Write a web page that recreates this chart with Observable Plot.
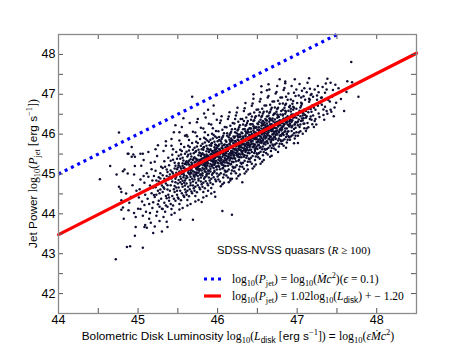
<!DOCTYPE html>
<html><head><meta charset="utf-8">
<script src="https://cdn.jsdelivr.net/npm/d3@7"></script>
<script src="https://cdn.jsdelivr.net/npm/@observablehq/plot@0.6"></script>
<style>body{margin:0;background:#fff;} svg{display:block}</style>
</head><body><div id="chart"></div>
<script>
// ---- data ----
const xTicks = [44, 45, 46, 47, 48];
const yTicks = [42, 43, 44, 45, 46, 47, 48];
const xTickMarks = [44, 44.5, 45, 45.5, 46, 46.5, 47, 47.5, 48, 48.5];
const yTickMarks = [41.5, 42, 42.5, 43, 43.5, 44, 44.5, 45, 45.5, 46, 46.5, 47, 47.5, 48, 48.5];
const fitX = [44, 48.5];
const fitY = [43.48, 48.03];
const eddX = [44, 47.5];
const eddY = [45, 48.5];
const legendTitle = "SDSS-NVSS quasars";
const quasars = [
[44.52,44.87],[44.65,45.2],[44.72,42.86],[44.73,44.99],[44.76,46.04],[44.76,44.68],[44.78,44.63],[44.79,44.55],[44.79,44.34],[44.79,44.1],[44.81,44.16],[44.81,45.07],[44.82,43.88],[44.83,45.11],[44.85,44.51],[44.86,43.17],[44.87,45.01],[44.87,45.51],[44.88,44.09],[44.88,45.51],[44.9,43.19],[44.92,45.43],[44.92,45.68],[44.94,45.49],[44.95,44.99],[44.96,45.43],[44.96,45.2],[44.96,43.45],[44.97,43.67],[44.97,43.92],[45.0,44.13],[44.91,44.42],[44.93,44.72],[44.98,44.58],[44.89,44.28],[44.95,44.02],
[45.06,43.15],[45.08,43.67],[45.19,43.52],[45.3,43.56],[45.37,43.67],[45.53,43.85],[45.69,43.85],[45.8,44.3],[45.03,45.51],[45.06,45.51],[45.68,46.94],[45.57,46.4],[46.06,44.07],
[45.42,45.88],[45.52,46.05],[45.61,45.98],[45.74,46.3],[45.83,46.52],[45.35,45.71],[45.47,46.22],[45.88,46.61],[45.95,46.72],[46.55,47.2],[46.85,47.28],[46.62,47.1],
[45.02,44.62],[45.05,44.31],[45.07,44.95],[45.03,44.12],[45.09,44.48],[45.06,43.95],[45.08,44.78],[45.04,45.21],[45.1,44.05],[45.01,44.41],[45.09,43.72],[45.05,44.55],[45.07,45.35],[45.03,44.86],[45.08,44.22],
[45.12,44.38],[45.15,44.71],[45.11,45.02],[45.18,44.15],[45.14,43.88],[45.17,44.52],[45.13,44.93],[45.19,44.29],[45.16,45.28],[45.12,44.61],[45.18,44.84],[45.15,44.02],[45.2,44.47],[45.11,43.65],[45.17,45.12],[45.14,44.25],[45.19,44.66],[45.13,45.55],[45.16,43.78],[45.2,44.95],
[45.21,44.42],[45.24,44.75],[45.22,45.08],[45.27,44.18],[45.25,44.58],[45.23,43.95],[45.28,44.89],[45.26,44.33],[45.29,45.18],[45.22,44.67],[45.24,44.05],[45.27,44.52],[45.21,45.31],[45.3,44.71],[45.25,44.24],[45.28,45.02],[45.23,44.48],[45.26,44.92],[45.29,44.38],[45.22,45.62],[45.27,43.82],[45.24,45.45],[45.3,44.13],[45.26,44.81],[45.21,43.68],[45.28,44.61],[45.25,45.72],[45.23,44.84],
[45.31,44.55],[45.33,44.88],[45.35,44.21],[45.37,45.05],[45.32,44.67],[45.36,44.39],[45.39,44.92],[45.34,45.18],[45.38,44.48],[45.31,44.12],[45.35,44.76],[45.33,45.32],[45.37,44.61],[45.4,44.99],[45.32,43.92],[45.36,45.11],[45.39,44.33],[45.34,44.84],[45.38,45.41],[45.31,44.97],[45.35,44.45],[45.37,44.72],[45.33,44.28],[45.39,45.22],[45.32,45.58],[45.36,43.8],[45.4,44.58],[45.34,44.05],[45.38,44.87],[45.31,45.15],[45.35,45.82],[45.37,44.18],[45.33,44.63],[45.39,44.41],[45.36,44.95],
[45.41,44.72],[45.43,45.05],[45.45,44.38],[45.47,45.21],[45.42,44.89],[45.46,44.55],[45.49,45.12],[45.44,45.36],[45.48,44.66],[45.41,44.25],[45.45,44.95],[45.43,45.48],[45.47,44.79],[45.5,45.16],[45.42,44.12],[45.46,45.28],[45.49,44.48],[45.44,45.01],[45.48,45.55],[45.41,45.09],[45.45,44.62],[45.47,44.88],[45.43,44.45],[45.49,45.38],[45.42,45.71],[45.46,44.02],[45.5,44.76],[45.44,44.21],[45.48,45.03],[45.41,45.33],[45.45,46.05],[45.47,44.33],[45.43,44.81],[45.49,44.58],[45.46,45.14],[45.42,43.98],[45.48,44.93],[45.44,45.62],[45.5,44.41],[45.46,44.7],
[45.51,44.85],[45.53,45.18],[45.55,44.52],[45.57,45.34],[45.52,45.02],[45.56,44.68],[45.59,45.25],[45.54,45.49],[45.58,44.78],[45.51,44.38],[45.55,45.08],[45.53,45.61],[45.57,44.92],[45.6,45.29],[45.52,44.25],[45.56,45.41],[45.59,44.61],[45.54,45.14],[45.58,45.68],[45.51,45.22],[45.55,44.75],[45.57,45.01],[45.53,44.58],[45.59,45.51],[45.52,45.84],[45.56,44.15],[45.6,44.89],[45.54,44.34],[45.58,45.16],[45.51,45.46],[45.55,46.18],[45.57,44.46],[45.53,44.94],[45.59,44.71],[45.56,45.27],[45.52,44.11],[45.58,45.06],[45.54,45.75],[45.6,44.54],[45.56,44.83],[45.53,45.38],[45.58,44.42],[45.51,44.66],[45.55,45.58],[45.59,45.96],
[45.61,44.95],[45.63,45.28],[45.65,44.62],[45.67,45.44],[45.62,45.12],[45.66,44.78],[45.69,45.35],[45.64,45.59],[45.68,44.88],[45.61,44.48],[45.65,45.18],[45.63,45.71],[45.67,45.02],[45.7,45.39],[45.62,44.35],[45.66,45.51],[45.69,44.71],[45.64,45.24],[45.68,45.78],[45.61,45.32],[45.65,44.85],[45.67,45.11],[45.63,44.68],[45.69,45.61],[45.62,45.94],[45.66,44.25],[45.7,44.99],[45.64,44.44],[45.68,45.26],[45.61,45.56],[45.65,46.28],[45.67,44.56],[45.63,45.04],[45.69,44.81],[45.66,45.37],[45.62,44.21],[45.68,45.16],[45.64,45.85],[45.7,44.64],[45.66,44.93],[45.63,45.48],[45.68,44.52],[45.61,44.76],[45.65,45.68],[45.69,46.06],[45.64,45.01],[45.67,45.22],[45.62,44.58],[45.7,45.52],[45.66,45.09],
[45.71,45.05],[45.73,45.38],[45.75,44.72],[45.77,45.54],[45.72,45.22],[45.76,44.88],[45.79,45.45],[45.74,45.69],[45.78,44.98],[45.71,44.58],[45.75,45.28],[45.73,45.81],[45.77,45.12],[45.8,45.49],[45.72,44.45],[45.76,45.61],[45.79,44.81],[45.74,45.34],[45.78,45.88],[45.71,45.42],[45.75,44.95],[45.77,45.21],[45.73,44.78],[45.79,45.71],[45.72,46.04],[45.76,44.35],[45.8,45.09],[45.74,44.54],[45.78,45.36],[45.71,45.66],[45.75,46.38],[45.77,44.66],[45.73,45.14],[45.79,44.91],[45.76,45.47],[45.72,44.31],[45.78,45.26],[45.74,45.95],[45.8,44.74],[45.76,45.03],[45.73,45.58],[45.78,44.62],[45.71,44.86],[45.75,45.78],[45.79,46.16],[45.74,45.11],[45.77,45.32],[45.72,44.68],[45.8,45.62],[45.76,45.19],[45.73,45.02],[45.78,45.52],[45.71,45.29],[45.75,45.15],[45.79,45.33],
[45.81,45.15],[45.83,45.48],[45.85,44.82],[45.87,45.64],[45.82,45.32],[45.86,44.98],[45.89,45.55],[45.84,45.79],[45.88,45.08],[45.81,44.68],[45.85,45.38],[45.83,45.91],[45.87,45.22],[45.9,45.59],[45.82,44.55],[45.86,45.71],[45.89,44.91],[45.84,45.44],[45.88,45.98],[45.81,45.52],[45.85,45.05],[45.87,45.31],[45.83,44.88],[45.89,45.81],[45.82,46.14],[45.86,44.45],[45.9,45.19],[45.84,44.64],[45.88,45.46],[45.81,45.76],[45.85,46.42],[45.87,44.76],[45.83,45.24],[45.89,45.01],[45.86,45.57],[45.82,44.41],[45.88,45.36],[45.84,46.05],[45.9,44.84],[45.86,45.13],[45.83,45.68],[45.88,44.72],[45.81,44.96],[45.85,45.88],[45.89,46.26],[45.84,45.21],[45.87,45.42],[45.82,44.78],[45.9,45.72],[45.86,45.29],[45.83,45.12],[45.88,45.62],[45.81,45.39],[45.85,45.25],[45.89,45.43],[45.84,44.92],[45.87,45.84],[45.82,45.61],[45.86,45.49],[45.88,44.58],
[45.91,45.25],[45.93,45.58],[45.95,44.92],[45.97,45.74],[45.92,45.42],[45.96,45.08],[45.99,45.65],[45.94,45.89],[45.98,45.18],[45.91,44.78],[45.95,45.48],[45.93,46.01],[45.97,45.32],[46.0,45.69],[45.92,44.65],[45.96,45.81],[45.99,45.01],[45.94,45.54],[45.98,46.08],[45.91,45.62],[45.95,45.15],[45.97,45.41],[45.93,44.98],[45.99,45.91],[45.92,46.24],[45.96,44.55],[46.0,45.29],[45.94,44.74],[45.98,45.56],[45.91,45.86],[45.95,46.51],[45.97,44.86],[45.93,45.34],[45.99,45.11],[45.96,45.67],[45.92,44.51],[45.98,45.46],[45.94,46.15],[46.0,44.94],[45.96,45.23],[45.93,45.78],[45.98,44.82],[45.91,45.06],[45.95,45.98],[45.99,46.36],[45.94,45.31],[45.97,45.52],[45.92,44.88],[46.0,45.82],[45.96,45.39],[45.93,45.22],[45.98,45.72],[45.91,45.49],[45.95,45.35],[45.99,45.53],[45.94,45.02],[45.97,45.94],[45.92,45.71],[45.96,45.59],[45.97,44.43],
[46.01,45.44],[46.03,45.12],[46.05,45.77],[46.02,45.93],[46.07,45.31],[46.04,45.02],[46.09,45.58],[46.06,46.11],[46.08,45.21],[46.01,44.86],[46.05,45.66],[46.03,46.28],[46.07,45.48],[46.1,45.84],[46.02,44.98],[46.06,45.71],[46.09,45.09],[46.04,45.39],[46.08,46.02],[46.01,45.27],[46.05,45.88],[46.07,44.91],[46.03,45.55],[46.09,46.18],[46.02,45.63],[46.06,44.74],[46.1,45.36],[46.04,45.82],[46.08,44.99],[46.01,46.07],[46.05,46.45],[46.07,45.15],[46.03,44.81],[46.09,45.74],[46.06,45.43],[46.02,45.18],[46.08,45.61],[46.04,46.34],[46.1,45.05],[46.06,45.92],[46.03,45.33],[46.08,44.78],[46.01,45.71],[46.05,45.24],[46.09,45.47],[46.04,44.69],[46.07,45.96],[46.02,45.52],[46.1,45.67],[46.06,45.28],[46.05,45.58],[46.08,45.34],
[46.11,45.52],[46.13,45.21],[46.15,45.86],[46.12,46.02],[46.17,45.41],[46.14,45.11],[46.19,45.68],[46.16,46.21],[46.18,45.31],[46.11,44.96],[46.15,45.76],[46.13,46.38],[46.17,45.58],[46.2,45.94],[46.12,45.07],[46.16,45.81],[46.19,45.18],[46.14,45.49],[46.18,46.12],[46.11,45.37],[46.15,45.98],[46.17,45.01],[46.13,45.65],[46.19,46.28],[46.12,45.73],[46.16,44.84],[46.2,45.46],[46.14,45.92],[46.18,45.09],[46.11,46.17],[46.15,46.55],[46.17,45.25],[46.13,44.91],[46.19,45.84],[46.16,45.53],[46.12,45.28],[46.18,45.71],[46.14,46.44],[46.2,45.15],[46.16,46.02],[46.13,45.43],[46.18,44.88],[46.11,45.81],[46.15,45.34],[46.19,45.57],[46.14,44.79],[46.17,46.06],[46.12,45.62],[46.2,45.77],[46.16,45.38],[46.18,43.98],[46.16,44.88],[46.13,45.67],[46.17,45.89],
[46.21,45.63],[46.23,45.32],[46.25,45.96],[46.22,46.13],[46.27,45.51],[46.24,45.22],[46.29,45.78],[46.26,46.31],[46.28,45.42],[46.21,45.07],[46.25,45.86],[46.23,46.47],[46.27,45.69],[46.3,46.04],[46.22,45.17],[46.26,45.92],[46.29,45.28],[46.24,45.59],[46.28,46.22],[46.21,45.47],[46.25,46.09],[46.27,45.11],[46.23,45.74],[46.29,46.38],[46.22,45.83],[46.26,44.95],[46.3,45.56],[46.24,46.02],[46.28,45.19],[46.21,46.27],[46.25,46.66],[46.27,45.35],[46.23,45.02],[46.29,45.94],[46.26,45.64],[46.22,45.38],[46.28,45.81],[46.24,46.54],[46.3,45.26],[46.26,46.12],[46.23,45.53],[46.28,44.99],[46.21,45.91],[46.25,45.44],[46.29,45.67],[46.24,44.89],[46.27,46.17],[46.22,45.72],[46.3,45.87],[46.26,45.48],[46.25,45.76],[46.28,45.99],[46.22,46.38],[46.27,45.61],
[46.31,45.74],[46.33,45.43],[46.35,46.07],[46.32,46.24],[46.37,45.62],[46.34,45.33],[46.39,45.89],[46.36,46.42],[46.38,45.53],[46.31,45.18],[46.35,45.97],[46.33,46.58],[46.37,45.79],[46.4,46.15],[46.32,45.28],[46.36,46.03],[46.39,45.39],[46.34,45.71],[46.38,46.33],[46.31,45.58],[46.35,46.21],[46.37,45.22],[46.33,45.85],[46.39,46.49],[46.32,45.94],[46.36,45.06],[46.4,45.67],[46.34,46.13],[46.38,45.31],[46.31,46.38],[46.35,46.78],[46.37,45.46],[46.33,45.13],[46.39,46.05],[46.36,45.75],[46.32,45.49],[46.38,45.92],[46.34,46.65],[46.4,45.37],[46.36,46.23],[46.33,45.64],[46.38,45.11],[46.31,46.02],[46.35,45.55],[46.39,45.78],[46.34,45.01],[46.37,46.28],[46.32,45.83],[46.4,45.98],[46.36,45.59],[46.31,44.79],[46.35,45.87],[46.38,46.11],[46.33,46.33],
[46.41,45.86],[46.43,45.55],[46.45,46.19],[46.42,46.36],[46.47,45.74],[46.44,45.45],[46.49,46.01],[46.46,46.54],[46.48,45.65],[46.41,45.31],[46.45,46.09],[46.43,46.71],[46.47,45.91],[46.5,46.27],[46.42,45.41],[46.46,46.15],[46.49,45.52],[46.44,45.83],[46.48,46.45],[46.41,45.71],[46.45,46.33],[46.47,45.35],[46.43,45.97],[46.49,46.61],[46.42,46.06],[46.46,45.19],[46.5,45.79],[46.44,46.25],[46.48,45.44],[46.41,46.51],[46.45,46.89],[46.47,45.58],[46.43,45.26],[46.49,46.18],[46.46,45.88],[46.42,45.61],[46.48,46.04],[46.44,46.77],[46.5,45.49],[46.46,46.35],[46.43,45.76],[46.48,45.24],[46.41,46.14],[46.45,45.67],[46.49,45.91],[46.44,45.14],[46.47,46.41],[46.42,45.95],[46.5,46.11],[46.46,45.71],[46.45,47.0],[46.43,46.44],[46.47,46.02],[46.41,46.25],
[46.51,45.97],[46.53,45.66],[46.55,46.29],[46.52,46.47],[46.57,45.84],[46.54,45.56],[46.59,46.12],[46.56,46.64],[46.58,45.76],[46.51,45.42],[46.55,46.21],[46.53,46.82],[46.57,46.02],[46.6,46.38],[46.52,45.53],[46.56,46.26],[46.59,45.63],[46.54,45.94],[46.58,46.56],[46.51,45.82],[46.55,46.43],[46.57,45.47],[46.53,46.08],[46.59,46.72],[46.52,46.17],[46.56,45.31],[46.6,45.89],[46.54,46.36],[46.58,45.55],[46.51,46.62],[46.55,47.05],[46.57,45.69],[46.53,45.38],[46.59,46.29],[46.56,45.99],[46.52,45.72],[46.58,46.15],[46.54,46.88],[46.6,45.61],[46.56,46.46],[46.53,45.87],[46.58,45.35],[46.51,46.25],[46.55,45.78],[46.59,46.02],[46.54,45.26],[46.57,46.52],[46.52,46.06],[46.6,46.22],[46.56,45.82],[46.53,46.55],[46.57,46.33],[46.51,46.11],
[46.61,46.08],[46.63,45.77],[46.65,46.39],[46.62,46.57],[46.67,45.94],[46.64,45.66],[46.69,46.22],[46.66,46.74],[46.68,45.86],[46.61,45.53],[46.65,46.31],[46.63,46.92],[46.67,46.13],[46.7,46.48],[46.62,45.63],[46.66,46.36],[46.69,45.74],[46.64,46.05],[46.68,46.66],[46.61,45.92],[46.65,46.53],[46.67,45.58],[46.63,46.19],[46.69,46.82],[46.62,46.27],[46.66,45.43],[46.7,45.99],[46.64,46.46],[46.68,45.65],[46.61,46.72],[46.65,47.12],[46.67,45.79],[46.63,45.49],[46.69,46.39],[46.66,46.09],[46.62,45.82],[46.68,46.25],[46.64,46.96],[46.7,45.71],[46.66,46.56],[46.63,45.97],[46.68,45.46],[46.61,46.35],[46.65,45.88],[46.69,46.12],[46.64,47.25],[46.67,46.62],[46.62,46.16],[46.7,46.32],[46.66,45.92],
[46.71,46.18],[46.73,45.88],[46.75,46.49],[46.72,46.67],[46.77,46.04],[46.74,45.77],[46.79,46.32],[46.76,46.84],[46.78,45.96],[46.71,45.64],[46.75,46.41],[46.73,47.02],[46.77,46.23],[46.8,46.58],[46.72,45.74],[46.76,46.46],[46.79,45.85],[46.74,46.15],[46.78,46.76],[46.71,46.02],[46.75,46.63],[46.77,45.69],[46.73,46.29],[46.79,46.92],[46.72,46.37],[46.76,45.55],[46.8,46.09],[46.74,46.56],[46.78,45.76],[46.71,46.82],[46.75,47.21],[46.77,45.89],[46.73,45.61],[46.79,46.49],[46.76,46.19],[46.72,45.92],[46.78,46.35],[46.74,47.06],[46.8,45.82],[46.76,46.66],[46.78,47.38],[46.73,46.07],[46.77,46.43],[46.71,46.51],
[46.81,46.28],[46.83,45.98],[46.85,46.59],[46.82,46.77],[46.87,46.14],[46.84,45.87],[46.89,46.42],[46.86,46.94],[46.88,46.06],[46.81,45.75],[46.85,46.51],[46.83,47.11],[46.87,46.33],[46.9,46.68],[46.82,45.84],[46.86,46.56],[46.89,45.95],[46.84,46.25],[46.88,46.86],[46.81,46.12],[46.85,46.73],[46.87,45.79],[46.83,46.39],[46.89,47.02],[46.82,46.47],[46.86,45.66],[46.9,46.19],[46.84,46.66],[46.88,45.86],[46.81,46.92],[46.85,47.32],[46.87,45.99],[46.83,45.71],[46.89,46.59],[46.86,46.29],[46.82,46.02],[46.88,46.45],[46.84,47.16],[46.9,45.92],[46.86,46.76],
[46.91,46.38],[46.93,46.08],[46.95,46.69],[46.92,46.87],[46.97,46.24],[46.94,45.97],[46.99,46.52],[46.96,47.04],[46.98,46.16],[46.91,45.86],[46.95,46.61],[46.93,47.21],[46.97,46.43],[47.0,46.78],[46.92,45.94],[46.96,46.66],[46.99,46.05],[46.94,46.35],[46.98,46.96],[46.91,46.22],[46.95,46.83],[46.97,45.89],[46.93,46.49],[46.99,47.12],[46.92,46.57],[46.96,45.77],[47.0,46.29],[46.94,46.76],[46.98,45.96],[46.97,47.38],[46.95,46.41],[46.91,46.71],[46.93,46.31],[46.99,46.64],[46.96,46.13],
[47.01,46.48],[47.03,46.18],[47.05,46.79],[47.02,46.97],[47.07,46.34],[47.04,46.07],[47.09,46.62],[47.06,47.09],[47.08,46.26],[47.01,45.96],[47.05,46.71],[47.03,47.26],[47.07,46.53],[47.1,46.86],[47.02,46.04],[47.06,46.76],[47.09,46.15],[47.04,46.45],[47.08,46.95],[47.01,46.32],[47.05,46.92],[47.07,46.01],[47.03,46.59],[47.09,47.15],[47.01,45.78],[47.06,46.39],[47.04,46.67],[47.08,46.52],
[47.11,46.58],[47.13,46.28],[47.15,46.89],[47.12,47.05],[47.17,46.44],[47.14,46.17],[47.19,46.72],[47.16,47.14],[47.18,46.36],[47.11,46.08],[47.15,46.81],[47.13,47.29],[47.17,46.63],[47.2,46.94],[47.12,46.14],[47.16,46.86],[47.19,46.25],[47.14,46.55],[47.18,47.01],[47.15,47.4],[47.11,46.41],[47.17,46.98],
[47.21,46.66],[47.23,46.38],[47.25,46.97],[47.22,47.12],[47.27,46.52],[47.24,46.24],[47.29,46.79],[47.26,47.21],[47.28,46.43],[47.21,46.18],[47.25,46.86],[47.23,46.61],[47.27,47.05],[47.3,46.91],[47.22,46.33],[47.26,46.71],
[47.31,46.74],[47.33,46.48],[47.35,47.04],[47.32,47.18],[47.37,46.58],[47.34,46.36],[47.39,46.86],[47.36,47.27],[47.38,46.51],[47.31,46.92],[47.35,46.69],[47.38,47.39],[47.33,46.62],[47.37,47.12],
[47.41,46.82],[47.43,46.56],[47.45,47.11],[47.42,47.29],[47.47,46.67],[47.46,46.45],[47.44,46.94],[47.48,47.24],[47.42,46.61],[47.49,46.79],
[47.59,46.58],[47.63,47.33],[47.69,47.3],[47.68,47.81],[47.77,46.94],[47.55,46.88],[47.62,47.06],[47.52,47.15],
[45.52,45.06],[45.54,44.88],[45.56,45.21],[45.58,44.97],[45.6,45.12],[45.62,44.91],[45.64,45.33],[45.66,45.04],[45.68,45.19],[45.7,44.95],[45.51,45.27],[45.53,44.79],[45.55,45.0],[45.57,45.15],[45.59,44.84],[45.61,45.24],[45.63,45.09],[45.65,44.99],[45.67,45.29],[45.69,45.07],
[45.71,45.18],[45.73,44.98],[45.75,45.36],[45.77,45.08],[45.79,45.24],[45.81,45.02],[45.83,45.41],[45.85,45.16],[45.87,45.33],[45.89,45.09],[45.72,45.31],[45.74,45.04],[45.76,45.25],[45.78,45.12],[45.8,45.38],[45.82,45.22],[45.84,45.07],[45.86,45.45],[45.88,45.27],[45.9,45.36],[45.71,44.93],[45.75,45.11],[45.79,44.99],[45.83,45.29],[45.87,45.01],
[45.91,45.38],[45.93,45.19],[45.95,45.54],[45.97,45.27],[45.99,45.44],[46.01,45.21],[46.03,45.61],[46.05,45.36],[46.07,45.52],[46.09,45.29],[45.92,45.51],[45.94,45.24],[45.96,45.46],[45.98,45.33],[46.0,45.57],[46.02,45.41],[46.04,45.28],[46.06,45.65],[46.08,45.47],[46.1,45.56],[45.91,45.13],[45.95,45.31],[45.99,45.19],[46.03,45.49],[46.07,45.22],[46.02,45.74],[45.97,45.62],[46.09,45.4],
[46.11,45.58],[46.13,45.39],[46.15,45.74],[46.17,45.47],[46.19,45.64],[46.21,45.41],[46.23,45.81],[46.25,45.56],[46.27,45.73],[46.29,45.49],[46.12,45.71],[46.14,45.44],[46.16,45.66],[46.18,45.53],[46.2,45.78],[46.22,45.61],[46.24,45.48],[46.26,45.85],[46.28,45.67],[46.3,45.76],[46.11,45.33],[46.15,45.51],[46.19,45.39],[46.23,45.69],[46.27,45.42],[46.22,45.94],[46.17,45.82],[46.29,45.6],[46.14,45.27],[46.26,45.99],
[46.31,45.78],[46.33,45.59],[46.35,45.94],[46.37,45.67],[46.39,45.84],[46.41,45.61],[46.43,46.01],[46.45,45.76],[46.47,45.93],[46.49,45.69],[46.32,45.91],[46.34,45.64],[46.36,45.86],[46.38,45.73],[46.4,45.98],[46.42,45.81],[46.44,45.68],[46.46,46.05],[46.48,45.87],[46.5,45.96],[46.31,45.53],[46.35,45.71],[46.39,45.59],[46.43,45.89],[46.47,45.62],[46.42,46.14],[46.37,46.02],[46.49,45.8],[46.34,45.47],[46.46,46.19],
[46.51,45.98],[46.53,45.79],[46.55,46.14],[46.57,45.87],[46.59,46.04],[46.61,45.81],[46.63,46.21],[46.65,45.96],[46.67,46.13],[46.69,45.89],[46.52,46.11],[46.54,45.84],[46.56,46.06],[46.58,45.93],[46.6,46.18],[46.62,46.01],[46.64,45.88],[46.66,46.25],[46.68,46.07],[46.7,46.16],[46.51,45.73],[46.55,45.91],[46.59,45.79],[46.63,46.09],[46.67,45.82],[46.62,46.34],[46.57,46.22],[46.69,46.0],[46.54,45.67],[46.66,46.39],
[46.71,46.16],[46.73,45.98],[46.75,46.31],[46.77,46.06],[46.79,46.22],[46.81,46.01],[46.83,46.38],[46.85,46.14],[46.87,46.29],[46.89,46.07],[46.72,46.28],[46.74,46.03],[46.76,46.24],[46.78,46.11],[46.8,46.34],[46.82,46.19],[46.84,46.06],[46.86,46.41],[46.88,46.24],[46.9,46.32],[46.71,45.93],[46.75,46.09],[46.79,45.97],[46.83,46.26],[46.87,46.01],[46.82,46.49],
[46.91,46.34],[46.93,46.17],[46.95,46.49],[46.97,46.25],[46.99,46.41],[47.01,46.22],[47.03,46.55],[47.05,46.33],[47.07,46.47],[47.09,46.27],[46.92,46.46],[46.94,46.21],[46.96,46.43],[46.98,46.3],[47.0,46.52],[47.02,46.37],[47.04,46.24],[47.06,46.58],[47.08,46.4],[47.1,46.48],[47.12,46.45],[47.14,46.63],[47.16,46.38],[47.18,46.56],[47.2,46.47],
[45.81,45.28],[45.84,45.35],[45.86,45.19],[45.89,45.39],[45.92,45.33],[45.94,45.47],[45.96,45.28],[45.99,45.49],[46.01,45.36],[46.03,45.42],[46.05,45.29],[46.07,45.61],[46.09,45.51],[46.11,45.45],[46.13,45.58],[46.15,45.42],[46.17,45.69],[46.19,45.51],[46.21,45.54],[46.23,45.62],[46.25,45.49],[46.27,45.81],[46.29,45.71],[46.31,45.66],[46.33,45.75],[46.35,45.61],[46.37,45.88],[46.39,45.72],[46.41,45.74],[46.43,45.83],[46.45,45.69],[46.47,46.03],[46.49,45.88],[46.51,45.86],[46.53,45.95],[46.55,45.81],[46.57,46.11],[46.59,45.97],[46.61,45.94],[46.63,46.03],[46.65,45.87],[46.67,46.22],[46.69,46.08],[46.71,46.06],[46.73,46.15],[46.75,45.99],[46.77,46.32],[46.79,46.14],[46.81,46.17],[46.83,46.21],[46.85,46.07],[46.87,46.39],[46.89,46.23],[46.91,46.27],[46.93,46.35],
[46.02,45.85],[46.12,45.96],[46.22,46.05],[46.32,46.12],[46.42,46.25],[46.52,46.31],[46.62,46.44],[46.72,46.52],[46.82,46.61],[46.92,46.64],[45.92,45.76],[45.82,45.66],[45.72,45.55],[45.62,45.44],
[45.86,44.95],[45.96,45.05],[46.06,45.14],[46.16,45.24],[46.26,45.33],[46.36,45.41],[46.46,45.53],[46.56,45.62],[46.66,45.71],[46.76,45.84],[46.86,45.93],[46.96,46.02],[45.76,44.84],[45.66,44.72],
[46.04,45.52],[46.14,45.63],[46.24,45.71],[46.34,45.82],[46.44,45.91],[46.54,46.02],[46.64,46.13],[46.74,46.24],[46.84,46.33],[45.94,45.4],[45.84,45.31],[45.74,45.18],[46.18,45.85],[46.28,45.93],[46.38,46.06],[46.48,46.16],[46.58,46.26],[46.68,46.35],[46.08,45.73],[45.98,45.62],[46.1,45.2],[46.2,45.3],[46.3,45.42],[46.4,45.52],[46.5,45.63],[46.6,45.74],[46.7,45.86],[46.8,45.96]
];

// ---- layout ----
const W = 463, H = 348;
const mL = 58, mR = 47, mT = 34, mB = 35;
const plotW = W - mL - mR, plotH = H - mT - mB;
const SANS = "Liberation Sans, Arial, Helvetica, sans-serif";
const SERIF = "Liberation Serif, DejaVu Serif, serif";
const tickColor = "#555";

const fitLine = fitX.map((x, i) => ({x, y: fitY[i]}));
const eddLine = eddX.map((x, i) => ({x, y: eddY[i]}));

const svg = Plot.plot({
  width: W, height: H,
  marginLeft: mL, marginRight: mR, marginTop: mT, marginBottom: mB,
  style: {fontFamily: SANS, fontSize: "12px", background: "#fff", color: "#000"},
  x: {domain: [44, 48.5]},
  y: {domain: [41.5, 48.5]},
  marks: [
    Plot.dot(quasars, {x: d => d[0], y: d => d[1], r: 1.25, fill: "#0e0e32", stroke: null}),
    Plot.line(eddLine, {x: "x", y: "y", stroke: "#0000ff", strokeWidth: 3.2, strokeDasharray: "3,4", strokeLinecap: "butt"}),
    Plot.line(fitLine, {x: "x", y: "y", stroke: "#ff0000", strokeWidth: 3.2}),
    Plot.tickX(xTickMarks, {x: d => d, insetTop: plotH - 5, stroke: tickColor}),
    Plot.tickX(xTickMarks, {x: d => d, insetBottom: plotH - 5, stroke: tickColor}),
    Plot.tickY(yTickMarks, {y: d => d, insetRight: plotW - 5, stroke: tickColor}),
    Plot.tickY(yTickMarks, {y: d => d, insetLeft: plotW - 5, stroke: tickColor}),
    Plot.axisX(xTicks, {tickSize: 0, tickPadding: 2, label: null, fontSize: 12.5}),
    Plot.axisY(yTicks, {tickSize: 0, tickPadding: 3, label: null, fontSize: 12.5}),
    Plot.frame({stroke: "#8a8a8a", strokeWidth: 1.3})
  ]
});
document.getElementById("chart").appendChild(svg);

// ---- rich text labels and legend ----
function rich(sel, parts, size) {
  let shift = 0;
  for (const [t, k] of parts) {
    const ts = sel.append("tspan").text(t);
    let target = 0, fam = SERIF, style = "normal", fs = size;
    if (k === "s") fam = SANS;
    if (k === "i") style = "italic";
    if (k === "sub") { target = size * 0.28; fs = size * 0.72; }
    if (k === "subs") { target = size * 0.28; fs = size * 0.72; fam = SANS; }
    if (k === "sup") { target = -size * 0.42; fs = size * 0.72; }
    ts.attr("font-family", fam).attr("font-style", style).attr("font-size", fs);
    if (target !== shift) { ts.attr("dy", target - shift); shift = target; }
  }
}
const s = d3.select(svg);
const g = s.append("g").attr("fill", "#000").attr("text-anchor", "start");

// x label
rich(g.append("text").attr("x", mL + plotW / 2 + 1).attr("y", 340).attr("text-anchor", "middle"), [
  ["Bolometric Disk Luminosity ", "s"], ["log", "m"], ["10", "sub"], ["(", "m"], ["L", "i"], ["disk", "subs"],
  [" [", "m"], ["erg s", "s"], ["−1", "sup"], ["]) ", "m"], ["= ", "s"], ["log", "m"], ["10", "sub"], ["(", "m"],
  ["εṀc", "i"], ["2", "sup"], [")", "m"]
], 11.8);

// y label
rich(g.append("text").attr("transform", `translate(37,${mT + plotH / 2}) rotate(-90)`).attr("text-anchor", "middle"), [
  ["Jet Power ", "s"], ["log", "m"], ["10", "sub"], ["(", "m"], ["P", "i"], ["jet", "sub"], [" [", "m"],
  ["erg s", "s"], ["−1", "sup"], ["])", "m"]
], 11.8);

// legend title
rich(g.append("text").attr("x", 217).attr("y", 254).attr("text-anchor", "start"), [
  [legendTitle + " (", "s"], ["R", "i"], [" ≥ 100)", "m"]
], 11.2);

// legend entries
s.append("line").attr("x1", 204).attr("x2", 221).attr("y1", 279).attr("y2", 279)
  .attr("stroke", "#0000ff").attr("stroke-width", 3.2).attr("stroke-dasharray", "3,4");
s.append("line").attr("x1", 204).attr("x2", 221).attr("y1", 296).attr("y2", 296)
  .attr("stroke", "#ff0000").attr("stroke-width", 3.2);
rich(g.append("text").attr("x", 232).attr("y", 283).attr("text-anchor", "start"), [
  ["log", "m"], ["10", "sub"], ["(", "m"], ["P", "i"], ["jet", "sub"], [") = log", "m"], ["10", "sub"],
  ["(", "m"], ["Ṁc", "i"], ["2", "sup"], [")(", "m"], ["ϵ", "i"], [" = 0.1)", "m"]
], 11.5);
rich(g.append("text").attr("x", 232).attr("y", 300).attr("text-anchor", "start"), [
  ["log", "m"], ["10", "sub"], ["(", "m"], ["P", "i"], ["jet", "sub"], [") = 1.02log", "m"], ["10", "sub"],
  ["(", "m"], ["L", "i"], ["disk", "subs"], [") + − 1.20", "m"]
], 11.5);
</script>
</body></html>
